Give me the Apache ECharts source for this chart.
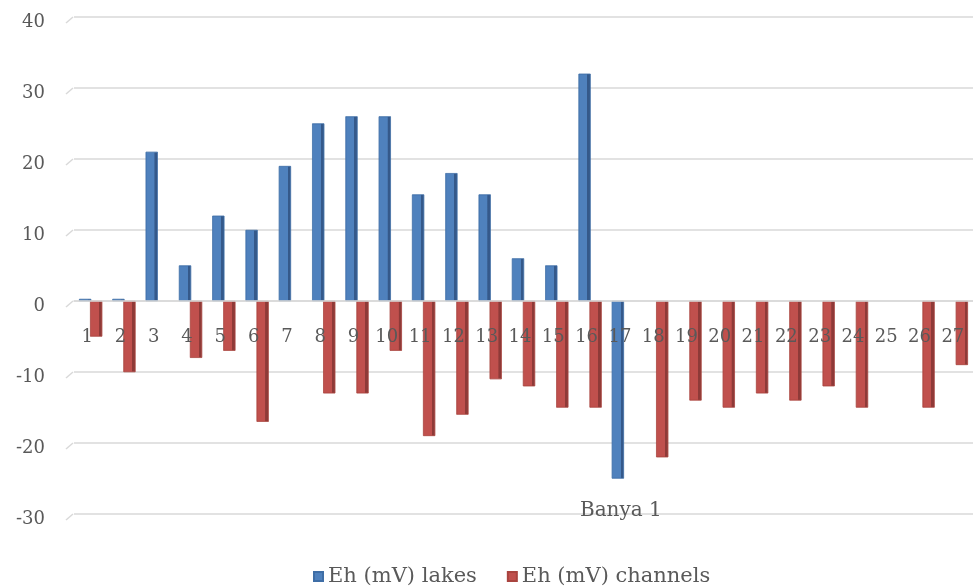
<!DOCTYPE html>
<html>
<head>
<meta charset="utf-8">
<script src="https://cdn.jsdelivr.net/npm/echarts@6/dist/echarts.min.js"></script>
<style>
  html, body { margin: 0; padding: 0; background: #ffffff; }
  #chart { width: 973px; height: 587px; }
</style>
</head>
<body>
<div id="chart"></div>
<script>
// Sampling points along Banya 1
const categories = ['1','2','3','4','5','6','7','8','9','10','11','12','13','14','15','16','17','18','19','20','21','22','23','24','25','26','27'];
// Eh (mV) measured in lakes
const lakes = [0, 0, 21, 5, 12, 10, 19, 25, 26, 26, 15, 18, 15, 6, 5, 32, -25, null, null, null, null, null, null, null, null, null, null];
// Eh (mV) measured in channels
const channels = [-5, -10, null, -8, -7, -17, null, -13, -13, -7, -19, -16, -11, -12, -15, -15, null, -22, -14, -15, -13, -14, -12, -15, null, -15, -9];
const yTicks = { min: -30, max: 40, step: 10 };

const textColor = '#595959';
const gridColor = '#d9d9d9';
const serif = '"DejaVu Serif", "Liberation Serif", serif';

// Column faces with a darker right side to give the bars some depth
function shaded(front, side) {
  return new echarts.graphic.LinearGradient(0, 0, 1, 0, [
    { offset: 0, color: front },
    { offset: 0.72, color: front },
    { offset: 0.74, color: side },
    { offset: 1, color: side }
  ]);
}

const chart = echarts.init(document.getElementById('chart'), null, { renderer: 'canvas' });

const gridTop = 17, gridBottom = 73, gridLeft = 74;

chart.setOption({
  backgroundColor: '#ffffff',
  animation: false,
  grid: { left: gridLeft, right: -6, top: gridTop, bottom: gridBottom, containLabel: false },
  legend: {
    bottom: -5,
    left: 308,
    itemWidth: 9,
    itemHeight: 9,
    itemGap: 30,
    icon: 'rect',
    textStyle: { color: textColor, fontFamily: serif, fontSize: 21 },
    data: [
      { name: 'Eh (mV) lakes', itemStyle: { color: '#4f81bd' } },
      { name: 'Eh (mV) channels', itemStyle: { color: '#c0504d' } }
    ]
  },
  xAxis: {
    type: 'category',
    data: categories,
    z: 5,
    axisLine: { show: true, onZero: false, lineStyle: { color: gridColor, width: 1.5 } },
    axisTick: { show: false },
    axisLabel: {
      color: textColor,
      fontFamily: serif,
      fontSize: 18,
      margin: 27,
      padding: [0, 7, 0, 0]
    },
    splitLine: { show: false }
  },
  yAxis: {
    type: 'value',
    min: yTicks.min,
    max: yTicks.max,
    interval: yTicks.step,
    axisLine: { show: false },
    axisTick: { show: false },
    axisLabel: {
      color: textColor,
      fontFamily: serif,
      fontSize: 18,
      margin: 29,
      verticalAlign: 'top',
      lineHeight: 10
    },
    splitLine: { lineStyle: { color: gridColor, width: 1.5 } }
  },
  series: [
    {
      name: 'Eh (mV) lakes',
      type: 'bar',
      data: lakes,
      barWidth: '36%',
      barGap: '-8%',
      barMinHeight: 2,
      itemStyle: { color: shaded('#4f81bd', '#35598a'), borderColor: '#3f6ea6', borderWidth: 0.5 }
    },
    {
      name: 'Eh (mV) channels',
      type: 'bar',
      data: channels,
      barWidth: '36%',
      itemStyle: { color: shaded('#c0504d', '#8e3a38'), borderColor: '#a9443f', borderWidth: 0.5 }
    }
  ]
});

// Category axis sits on the zero line; short slanted floor edges at the left of each gridline
const zeroY = chart.convertToPixel({ yAxisIndex: 0 }, 0);
const bottomY = chart.convertToPixel({ yAxisIndex: 0 }, yTicks.min);
const edges = [];
for (let v = yTicks.min; v <= yTicks.max; v += yTicks.step) {
  const y = chart.convertToPixel({ yAxisIndex: 0 }, v);
  edges.push({
    type: 'line',
    shape: { x1: gridLeft - 8, y1: y + 6, x2: gridLeft - 1, y2: y },
    style: { stroke: gridColor, lineWidth: 1.5 }
  });
}
edges.push({
  type: 'text',
  left: 580,
  top: bottomY - 13,
  style: { text: 'Banya 1', fill: textColor, font: '20px ' + serif }
});
chart.setOption({
  xAxis: { offset: -(bottomY - zeroY) },
  graphic: edges
});
</script>
</body>
</html>
